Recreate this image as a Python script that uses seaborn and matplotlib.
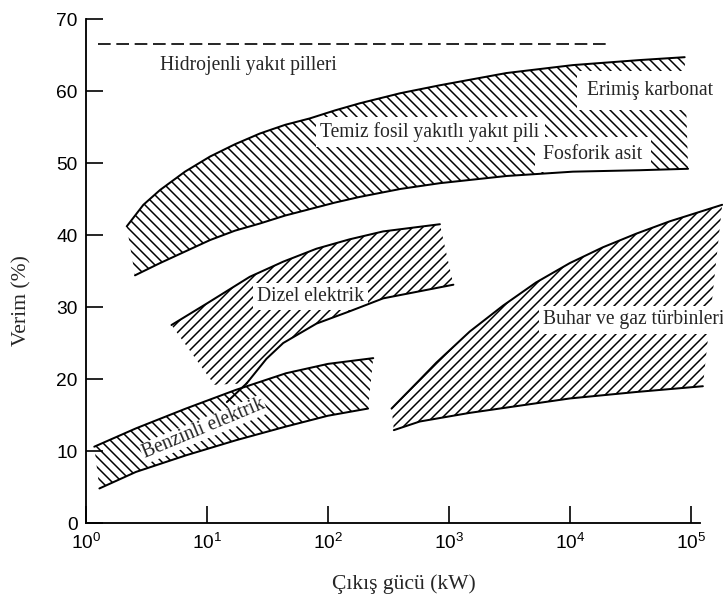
import numpy as np
import pandas as pd
import matplotlib
matplotlib.use("Agg")
import matplotlib.pyplot as plt
import seaborn as sns

# band edges: output power (kW) -> efficiency (%)
fossil_upper_kw = [2.17, 2.98, 4.09, 6.58, 10.6, 17.0, 27.4, 44.2, 71, 114, 184, 398, 843, 3000, 10600, 37900, 89100]
fossil_upper_pct = [41.2, 44.2, 46.25, 48.8, 50.9, 52.6, 54.1, 55.3, 56.2, 57.3, 58.3, 59.7, 60.8, 62.5, 63.6, 64.3, 64.7]
fossil_lower_kw = [2.54, 4.09, 6.58, 10.6, 17.0, 27.4, 44.2, 71, 114, 184, 398, 843, 3000, 10600, 37900, 95100]
fossil_lower_pct = [34.4, 36.1, 37.7, 39.3, 40.6, 41.6, 42.7, 43.6, 44.5, 45.3, 46.4, 47.2, 48.2, 48.8, 49.0, 49.2]

diesel_upper_kw = [5.09, 10, 22.6, 42.7, 80.5, 151, 286, 843]
diesel_upper_pct = [27.5, 30.5, 34.2, 36.3, 38.1, 39.4, 40.5, 41.5]
diesel_lower_kw = [14.6, 21.3, 31, 42.7, 80.5, 151, 286, 1090]
diesel_lower_pct = [16.8, 19.4, 22.8, 25.0, 27.7, 29.4, 31.2, 33.1]
diesel_corner_kw = [11.5]
diesel_corner_pct = [19.2]

petrol_upper_kw = [1.17, 2.59, 6.7, 17.4, 45, 100, 237]
petrol_upper_pct = [10.6, 13.15, 15.9, 18.5, 20.8, 22.1, 22.9]
petrol_lower_kw = [1.29, 2.59, 6.7, 17.4, 45, 100, 215]
petrol_lower_pct = [4.8, 7.1, 9.4, 11.5, 13.4, 14.9, 15.9]

turbine_upper_kw = [336, 575, 791, 1490, 2810, 5250, 10000, 18800, 35600, 67000, 182000]
turbine_upper_pct = [15.9, 19.9, 22.3, 26.6, 30.2, 33.4, 36.1, 38.3, 40.2, 41.9, 44.2]
turbine_lower_kw = [351, 575, 1490, 10000, 35500, 126000]
turbine_lower_pct = [12.9, 14.1, 15.3, 17.3, 18.2, 19.0]

hydrogen_kw = [1.26, 20000]
hydrogen_pct = [66.6, 66.6]

x_ticks = [1, 10, 100, 1000, 10000, 100000]
y_ticks = [0, 10, 20, 30, 40, 50, 60, 70]

sns.set_style("ticks")
plt.rcParams["font.family"] = ["Liberation Sans", "DejaVu Sans"]
plt.rcParams["hatch.linewidth"] = 0.9
SERIF = ["Liberation Serif", "DejaVu Serif"]
LW = 1.2

fig = plt.figure(figsize=(723 / 120, 602 / 120), dpi=120)
ax = fig.add_axes([0.119, 0.1312, 0.849, 0.8372])
ax.set_xscale("log")


def band(xu, yu, xl, yl, hatch, extra_x=(), extra_y=(), clip=True):
    xs = list(xu) + list(xl)[::-1] + list(extra_x)
    ys = list(yu) + list(yl)[::-1] + list(extra_y)
    ax.fill(xs, ys, facecolor="none", edgecolor="black", linewidth=0,
            hatch=hatch, zorder=2, clip_on=clip)
    for x, y in ((xu, yu), (xl, yl)):
        sns.lineplot(x=x, y=y, ax=ax, color="black", linewidth=LW,
                     sort=False, estimator=None, zorder=4)
        ax.lines[-1].set_clip_on(clip)
        ax.lines[-1].set_solid_joinstyle("round")


band(fossil_upper_kw, fossil_upper_pct, fossil_lower_kw, fossil_lower_pct, "\\\\\\\\")
band(diesel_upper_kw, diesel_upper_pct, diesel_lower_kw[1:], diesel_lower_pct[1:], "////",
     diesel_corner_kw, diesel_corner_pct)
sns.lineplot(x=diesel_lower_kw[:2], y=diesel_lower_pct[:2], ax=ax, color="black",
             linewidth=LW, sort=False, estimator=None, zorder=4)
band(petrol_upper_kw, petrol_upper_pct, petrol_lower_kw, petrol_lower_pct, "\\\\\\\\")
band(turbine_upper_kw, turbine_upper_pct, turbine_lower_kw, turbine_lower_pct, "////",
     clip=False)

sns.lineplot(x=hydrogen_kw, y=hydrogen_pct, ax=ax, color="black", linewidth=1.0,
             linestyle=(0, (7.6, 3.4)), zorder=4)

txt = dict(family=SERIF, fontsize=11.8, zorder=3)
ax.text(22.2, 63.6, "Hidrojenli yakıt pilleri", ha="center", va="center", **txt)
ax.text(700, 54.3, "Temiz fosil yakıtlı yakıt pili", ha="center", va="center",
        bbox=dict(facecolor="white", edgecolor="none", pad=3), **txt)
ax.text(45700, 60.1, "Erimiş karbonat", ha="center", va="center",
        bbox=dict(facecolor="white", edgecolor="none", pad=6), **txt)
ax.text(15500, 51.2, "Fosforik asit", ha="center", va="center",
        bbox=dict(facecolor="white", edgecolor="none", pad=5), **txt)
ax.text(72, 31.5, "Dizel elektrik", ha="center", va="center",
        bbox=dict(facecolor="white", edgecolor="none", pad=2.5), **txt)
ax.text(9.35, 13.05, "Benzinli elektrik", ha="center", va="center", rotation=22.6,
        bbox=dict(facecolor="white", edgecolor="none", pad=0.5), **txt)
ax.text(6000, 28.2, "Buhar ve gaz türbinleri", ha="left", va="center",
        bbox=dict(facecolor="white", edgecolor="none", pad=2.5), clip_on=False, **txt)

ax.set_xlim(1, 1.19e5)
ax.set_ylim(0, 70)
ax.set_xticks(x_ticks)
ax.set_yticks(y_ticks)
ax.minorticks_off()
ax.tick_params(direction="in", length=10, width=1.0, labelsize=11.5, colors="black")
ax.tick_params(axis="x", pad=6)
ax.tick_params(axis="y", pad=5)
sns.despine(ax=ax)
for s in ("left", "bottom"):
    ax.spines[s].set_linewidth(1.1)
    ax.spines[s].set_color("black")

ax.set_xlabel("Çıkış gücü (kW)", family=SERIF, fontsize=13)
ax.set_ylabel("Verim (%)", family=SERIF, fontsize=13)
ax.xaxis.set_label_coords(0.518, -0.101)
ax.yaxis.set_label_coords(-0.0896, 0.442)

fig.savefig("out.png", dpi=120)
